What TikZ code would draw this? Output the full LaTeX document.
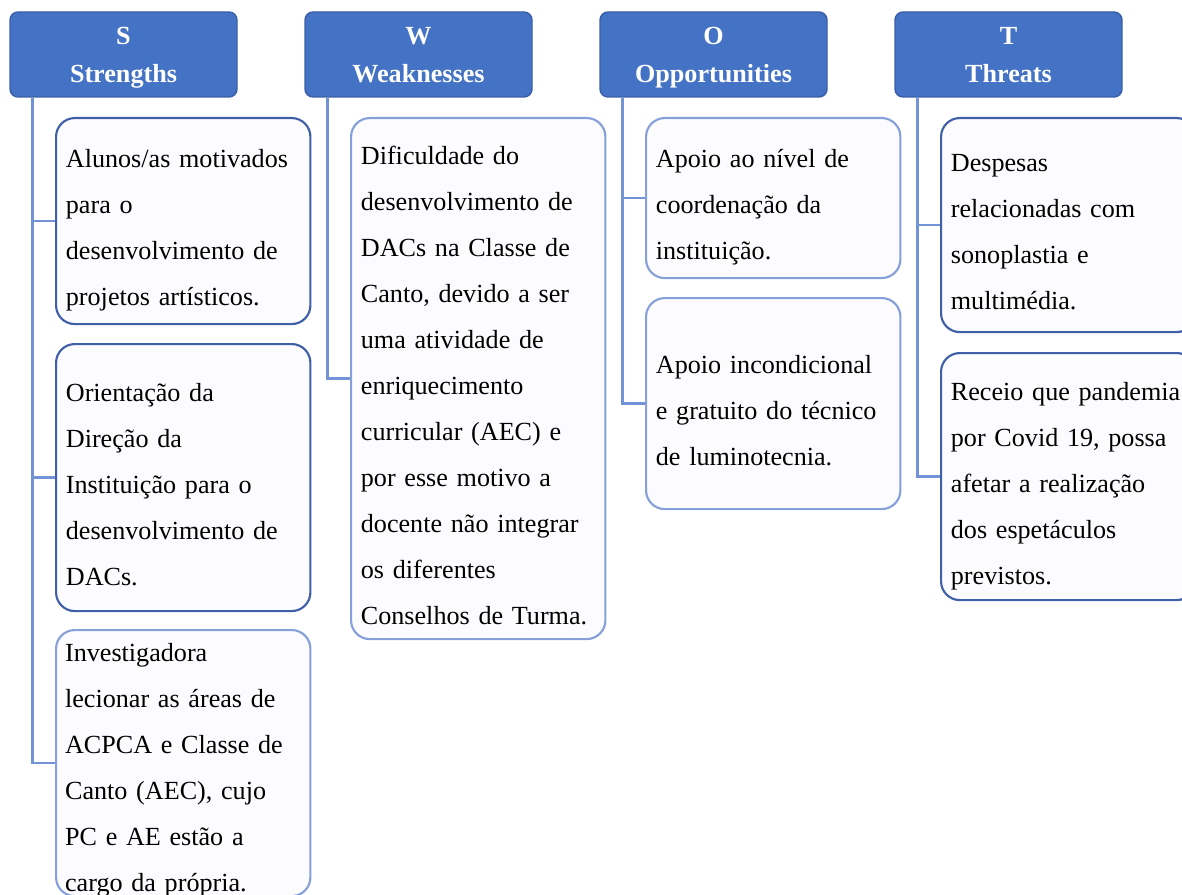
\documentclass[tikz,border=0pt]{standalone}
\usepackage{fontspec}
\setmainfont{Liberation Serif}
\usetikzlibrary{positioning, calc}
\hyphenpenalty=10000

\definecolor{headblue}{HTML}{4472C4}
\definecolor{headline}{HTML}{3A5FA8}
\definecolor{linkblue}{HTML}{7294D6}
\definecolor{cardfill}{HTML}{FCFBFE}
\definecolor{carddark}{HTML}{3F5FA8}
\definecolor{cardlight}{HTML}{86A0DA}

\tikzset{
  head/.style={draw=headline, line width=1.1pt, fill=headblue, rounded corners=6pt,
    minimum width=170.25pt, minimum height=63.75pt, inner sep=0pt, align=center,
    text=white, font=\fontsize{19.6}{28}\selectfont\bfseries},
  cardtext/.style={text width=176pt, inner xsep=7.375pt, inner ysep=0pt, align=left,
    font=\fontsize{19.6}{34.5}\selectfont,
    execute at begin node={\rule{0pt}{28.9pt}},
    execute at end node={\rule[-5.6pt]{0pt}{5.6pt}}},
  card/.style={cardtext, draw=#1, line width=1.6pt, fill=cardfill, rounded corners=14pt,
    minimum width=189.75pt, anchor=north west},
  card/.default=carddark,
  link/.style={draw=linkblue, line width=2pt}
}
\newcommand{\headtext}[2]{\rule{0pt}{20pt}#1\\#2\rule[-6.3pt]{0pt}{6.3pt}}

\begin{document}
\begin{tikzpicture}[x=0.75pt, y=-0.75pt]
\useasboundingbox (0,0) rectangle (1182,895);

% headers
\foreach \k/\l/\t/\i in {s/S/Strengths/0, w/W/Weaknesses/1, o/O/Opportunities/2, t/T/Threats/3}
	\node[head] (\k) at (123.5+295*\i, 54.5) {\headtext{\l}{\t}};

% strengths
\node[card, minimum height=154.5pt] (s1) at (55,117) {Alunos/as motivados\\para o\\desenvolvimento de\\projetos artísticos.};
\node[card, minimum height=200.25pt] (s2) at (55,343) {Orientação da\\Direção da\\Instituição para o\\desenvolvimento de\\DACs.};
\node[card=cardlight, minimum height=199.5pt] (s3) at (55,629) {};
\node[cardtext, anchor=north west] (s3text) at ([yshift=5pt]s3.north west) {Investigadora\\lecionar as áreas de\\ACPCA e Classe de\\Canto (AEC), cujo\\PC e AE estão a\\cargo da própria.};

% weaknesses
\node[card=cardlight, minimum height=390.75pt] (w1) at (350,117) {Dificuldade do\\desenvolvimento de\\DACs na Classe de\\Canto, devido a ser\\uma atividade de\\enriquecimento\\curricular (AEC) e\\por esse motivo a\\docente não integrar\\os diferentes\\Conselhos de Turma.};

% opportunities
\node[card=cardlight, minimum height=120pt] (o1) at (645,117) {Apoio ao nível de\\coordenação da\\instituição.};
\node[card=cardlight, minimum height=158.25pt] (o2) at (645,297) {Apoio incondicional\\e gratuito do técnico\\de luminotecnia.};

% threats
\node[card, minimum height=160.5pt] (t1) at (940,117) {Despesas\\relacionadas com\\sonoplastia e\\multimédia.};
\node[card, minimum height=185.25pt] (t2) at (940,352) {Receio que pandemia\\por Covid 19, possa\\afetar a realização\\dos espetáculos\\previstos.};

% connectors
\foreach \h/\c in {s/s1, s/s2, s/s3, w/w1, o/o1, o/o2, t/t1, t/t2}
	\draw[link] ([xshift=17.25pt]\h.south west) |- (\c.west);
\end{tikzpicture}
\end{document}
